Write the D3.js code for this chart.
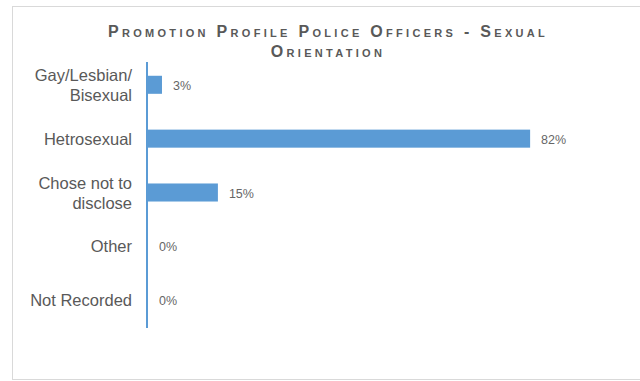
<!DOCTYPE html>
<html>
<head>
<meta charset="utf-8">
<script src="https://cdn.jsdelivr.net/npm/d3@7"></script>
<style>
  body { margin: 0; background: #fff; }
  svg { display: block; font-family: "Liberation Sans", Arial, sans-serif; }
</style>
</head>
<body>
<svg id="chart" width="640" height="381"></svg>
<script>
// Chart data
var categories = ["Gay/Lesbian/\nBisexual", "Hetrosexual", "Chose not to\ndisclose", "Other", "Not Recorded"];
var values = [3, 82, 15, 0, 0];
var title_lines = ["Promotion Profile Police Officers - Sexual", "Orientation"];

var svg = d3.select("#chart");
var grey = "#595959";
var blue = "#5b9bd5";

// Outer frame
svg.append("rect")
    .attr("x", 12.5).attr("y", 6.5)
    .attr("width", 640).attr("height", 373)
    .attr("fill", "#fff")
    .attr("stroke", "#d9d9d9");

var x = d3.scaleLinear().domain([0, 100]).range([148, 614]);
var y = d3.scaleBand().domain(categories).range([58, 327]).paddingInner(0.665).paddingOuter(0.33);

// Title
svg.append("g").selectAll("text")
    .data(title_lines)
    .enter().append("text")
    .attr("x", 328)
    .attr("y", (d, i) => 37 + i * 20)
    .attr("text-anchor", "middle")
    .style("font-size", "16px")
    .style("font-weight", "bold")
    .style("font-variant", "small-caps")
    .style("letter-spacing", "3.3px")
    .style("fill", grey)
    .text(d => d);

// Bars
svg.append("g").selectAll("rect")
    .data(values)
    .enter().append("rect")
    .attr("x", 147)
    .attr("y", (d, i) => y(categories[i]))
    .attr("width", d => x(d) - 147)
    .attr("height", y.bandwidth())
    .attr("fill", blue);

// Axis line
svg.append("line")
    .attr("x1", 147).attr("x2", 147)
    .attr("y1", 62).attr("y2", 328)
    .attr("stroke", blue)
    .attr("stroke-width", 2);

// Category labels
var cat = svg.append("g").selectAll("text")
    .data(categories)
    .enter().append("text")
    .attr("text-anchor", "end")
    .style("font-size", "16.5px")
    .style("fill", grey)
    .attr("transform", d => "translate(132," + (y(d) + y.bandwidth() / 2) + ")");

cat.each(function (d) {
    var lines = d.split("\n");
    var t = d3.select(this);
    lines.forEach(function (l, j) {
        t.append("tspan")
            .attr("x", 0)
            .attr("y", (j - (lines.length - 1) / 2) * 20 + 6)
            .text(l);
    });
});

// Value labels
svg.append("g").selectAll("text")
    .data(values)
    .enter().append("text")
    .attr("x", d => x(d) + 11)
    .attr("y", (d, i) => y(categories[i]) + y.bandwidth() / 2 + 5)
    .style("font-size", "12.5px")
    .style("fill", "#666")
    .text(d => d + "%");
</script>
</body>
</html>
